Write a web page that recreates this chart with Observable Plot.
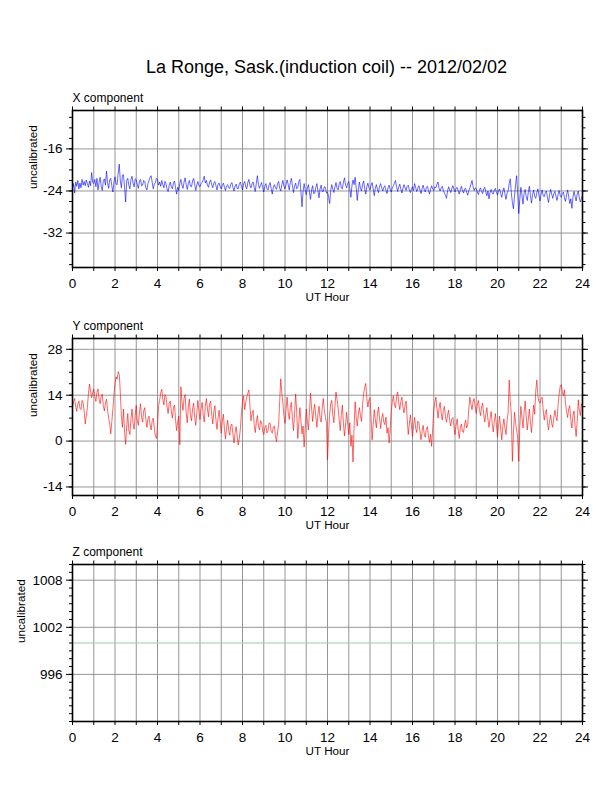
<!DOCTYPE html>
<html>
<head>
<meta charset="utf-8">
<script src="https://cdn.jsdelivr.net/npm/d3@7"></script>
<script src="https://cdn.jsdelivr.net/npm/@observablehq/plot@0.6"></script>
<style>
  html, body { margin: 0; padding: 0; background: #fff; }
  #page { position: relative; width: 612px; height: 792px; background: #fff; overflow: hidden;
          font-family: "Liberation Sans", Arial, Helvetica, sans-serif; }
  #title { position: absolute; left: 0; width: 653px; top: 56px; text-align: center;
           font-size: 18px; line-height: 22px; color: #000; }
  .panel { position: absolute; left: 0; }
</style>
</head>
<body>
<div id="page">
  <div id="title">La Ronge, Sask.(induction coil) -- 2012/02/02</div>
</div>
<script>
// ---------------- data ----------------
const sampleStepHours = 0.05; // one value every 3 minutes, 0..24 h

const xComponent = [
-23.6,-22.6,-24.4,-22.3,-23.1,-22.0,-23.6,-22.5,-23.4,-21.8,-22.9,-22.2,-23.0,-21.9,-22.6,-23.3,-22.1,-23.0,-20.5,-22.4,
-22.6,-21.8,-23.2,-21.6,-23.8,-22.4,-21.4,-23.1,-23.9,-22.0,-21.7,-22.9,-20.2,-22.5,-23.5,-21.9,-21.6,-23.0,-24.2,-22.3,
-21.3,-22.7,-22.8,-20.6,-18.9,-22.1,-23.4,-21.0,-20.9,-23.3,-26.1,-22.0,-21.6,-22.9,-23.6,-21.8,-21.2,-22.5,-23.2,-21.7,
-21.9,-22.8,-23.5,-22.1,-21.8,-23.0,-22.9,-22.0,-22.2,-23.4,-23.8,-22.6,-22.0,-21.4,-21.1,-22.3,-23.6,-22.7,-22.4,-21.6,
-21.8,-22.9,-22.3,-23.1,-22.0,-22.8,-23.4,-22.2,-22.6,-23.7,-24.1,-22.9,-22.3,-23.2,-23.6,-22.5,-22.1,-23.4,-24.6,-23.3,
-23.9,-22.6,-21.8,-22.9,-23.5,-22.3,-21.5,-22.8,-23.7,-22.6,-22.0,-23.1,-23.2,-22.1,-21.6,-22.7,-23.9,-22.9,-22.2,-23.0,
-23.2,-22.6,-22.4,-21.9,-21.2,-22.5,-22.0,-22.9,-23.3,-22.3,-21.9,-22.8,-23.4,-22.5,-22.2,-23.0,-23.8,-22.7,-22.5,-23.2,
-23.6,-22.9,-22.5,-23.3,-23.9,-23.0,-22.8,-23.4,-23.5,-22.7,-22.4,-23.3,-24.0,-23.1,-22.7,-23.5,-23.6,-22.6,-22.3,-23.2,
-23.8,-22.7,-22.2,-23.1,-23.6,-22.4,-21.8,-22.9,-23.4,-22.6,-22.3,-23.3,-24.1,-22.5,-21.1,-22.8,-23.5,-22.9,-22.4,-23.4,
-24.2,-23.1,-22.6,-23.5,-23.8,-22.9,-22.4,-23.6,-24.6,-23.3,-22.8,-23.4,-23.7,-22.6,-22.2,-23.5,-24.0,-22.8,-22.0,-23.1,
-23.6,-22.7,-21.9,-22.8,-23.8,-22.4,-21.6,-23.0,-24.3,-23.1,-22.5,-23.6,-23.4,-22.2,-21.8,-24.2,-27.0,-24.1,-22.6,-23.8,
-24.7,-23.5,-22.8,-24.2,-25.6,-23.8,-23.0,-24.5,-24.4,-23.3,-22.6,-24.0,-25.3,-23.6,-22.9,-24.1,-24.1,-23.2,-23.3,-24.4,
-24.2,-25.1,-26.4,-23.9,-22.8,-23.7,-24.3,-23.2,-22.4,-23.5,-23.8,-22.6,-22.2,-23.4,-23.6,-22.3,-21.5,-22.9,-23.4,-22.6,
-22.2,-23.6,-25.2,-23.0,-21.9,-22.8,-21.4,-23.4,-25.8,-23.7,-22.3,-23.5,-24.0,-22.7,-22.1,-23.6,-24.6,-23.2,-22.5,-23.4,
-23.8,-22.9,-22.4,-23.6,-24.9,-23.5,-22.8,-23.7,-24.3,-23.1,-22.6,-23.4,-24.0,-23.3,-23.0,-23.9,-24.5,-23.4,-22.9,-23.7,
-24.2,-23.4,-23.0,-22.5,-22.0,-23.2,-24.1,-23.3,-22.7,-23.6,-24.4,-23.5,-22.8,-23.4,-23.9,-23.1,-22.9,-23.8,-24.3,-23.6,
-23.2,-23.9,-22.6,-23.4,-24.1,-23.5,-23.0,-23.8,-24.5,-23.6,-22.9,-23.7,-24.2,-23.3,-23.1,-23.9,-24.6,-23.7,-23.0,-23.6,
-23.9,-23.2,-23.4,-22.7,-22.3,-23.5,-24.0,-23.4,-23.1,-23.9,-24.4,-24.8,-25.4,-24.0,-23.2,-23.8,-24.3,-23.5,-23.0,-23.7,
-24.2,-23.5,-23.3,-24.0,-24.6,-23.8,-23.1,-23.9,-24.4,-23.6,-23.5,-24.3,-24.8,-23.9,-23.4,-22.7,-22.0,-23.2,-23.9,-23.4,
-23.6,-24.2,-24.7,-23.8,-23.4,-24.1,-24.5,-23.6,-23.3,-24.2,-24.9,-24.0,-25.5,-24.3,-23.7,-24.4,-24.6,-23.8,-23.5,-24.3,
-24.8,-23.9,-23.6,-24.5,-25.2,-24.1,-23.4,-24.6,-25.6,-24.4,-24.0,-22.6,-21.7,-24.3,-26.2,-27.4,-25.0,-22.8,-21.1,-24.6,
-28.3,-25.6,-23.3,-24.8,-26.5,-24.4,-23.7,-25.1,-25.8,-24.2,-23.1,-24.9,-26.3,-24.7,-23.8,-25.0,-25.4,-24.3,-23.6,-24.8,
-25.9,-24.6,-23.8,-24.9,-25.1,-24.3,-24.0,-25.2,-26.2,-24.8,-23.7,-24.6,-25.4,-24.5,-24.1,-25.0,-25.8,-24.7,-23.9,-24.9,
-25.2,-24.5,-24.2,-25.3,-26.0,-24.7,-23.8,-25.1,-26.4,-25.5,-27.3,-25.2,-24.1,-25.0,-25.9,-24.6,-24.0,-25.3,-26.1,-25.4,
-24.9];

const yComponent = [
10.4,12.1,13.0,10.6,9.1,11.3,12.2,10.0,9.6,12.4,11.8,8.9,5.2,7.8,10.3,14.6,17.4,15.2,13.2,14.8,
15.8,13.6,12.1,14.9,15.9,12.8,11.4,13.7,14.3,10.8,9.2,11.6,12.8,9.4,7.1,5.3,2.2,6.0,9.8,14.2,
17.5,19.6,18.9,21.2,20.4,14.8,7.6,4.2,9.8,2.6,-1.0,4.6,8.4,3.2,2.0,6.8,9.8,5.4,3.6,7.9,
10.9,6.2,4.8,8.9,11.4,7.3,5.8,9.2,10.2,6.6,4.2,6.9,7.6,5.0,3.4,6.2,7.0,3.8,1.5,0.8,
4.6,10.8,12.4,14.6,15.8,12.8,11.0,14.2,13.6,10.4,8.4,11.6,12.2,9.1,7.0,10.2,11.0,6.4,3.2,5.8,
7.6,-1.1,16.6,12.0,9.4,13.1,14.2,8.6,5.6,10.4,12.8,7.9,6.2,9.8,11.6,7.3,4.8,8.6,12.4,9.0,
6.6,9.9,11.8,8.0,5.8,10.6,13.0,9.8,7.4,11.4,12.2,8.1,5.2,8.9,10.8,6.4,3.6,7.1,9.4,5.9,
2.4,6.0,8.2,3.6,0.6,4.1,6.4,3.3,1.8,4.8,5.2,2.0,-0.6,2.6,4.4,1.5,-1.2,0.9,3.8,8.6,
12.0,13.8,9.6,11.7,13.4,14.6,15.6,10.8,6.2,8.4,9.4,5.1,2.6,5.8,7.8,4.5,3.4,6.2,5.6,2.9,
2.0,4.1,4.8,2.5,3.2,5.6,5.4,3.0,2.4,4.3,4.6,1.6,-0.2,2.8,5.0,12.4,19.0,14.6,11.6,7.8,
5.4,9.6,13.4,8.8,6.6,10.2,11.8,6.7,3.2,8.4,14.4,9.0,0.8,5.6,10.2,6.1,2.2,4.6,-1.8,3.9,
9.8,6.4,3.4,8.7,14.6,10.1,6.0,9.4,11.2,7.5,4.2,8.3,10.6,7.0,5.8,9.9,13.0,9.6,7.4,5.6,
-5.8,2.4,8.2,11.3,12.4,7.9,5.6,10.7,15.0,12.6,10.2,6.4,3.2,8.1,11.0,5.3,1.6,4.9,8.8,5.2,
2.0,5.6,-1.6,1.8,-6.4,4.2,12.0,7.3,4.6,8.0,10.2,7.8,6.0,11.2,14.5,16.4,17.6,13.0,10.4,12.6,
13.2,6.9,0.4,5.1,9.6,6.6,4.0,8.2,10.4,6.9,3.8,7.0,8.4,5.8,5.0,7.3,2.4,4.1,-0.6,3.4,
9.2,12.0,13.8,11.1,10.2,13.6,15.0,11.8,9.6,12.1,13.4,10.4,8.6,11.0,12.2,6.8,2.0,5.1,8.0,4.6,
1.4,4.8,7.2,4.0,2.6,6.1,5.6,3.1,0.4,2.9,4.8,2.2,1.2,3.6,4.4,1.5,-0.4,2.1,-1.6,3.8,
9.6,11.8,13.4,9.9,7.0,10.1,11.8,8.6,6.4,9.3,10.6,7.4,5.8,8.0,9.4,6.2,4.6,6.8,7.2,4.5,
2.0,4.7,6.8,3.4,0.8,3.9,5.2,3.1,2.6,5.0,6.4,4.0,5.0,9.8,13.4,11.2,9.6,12.0,13.0,10.6,
8.4,10.9,12.4,9.6,7.8,10.4,11.6,8.0,5.8,8.3,10.2,6.6,4.2,6.9,9.0,5.4,2.8,5.9,8.4,4.9,
1.2,5.0,7.6,3.6,0.4,4.4,6.8,3.9,2.0,6.2,9.0,18.6,12.4,8.0,-6.2,2.4,8.8,5.6,3.2,1.0,
-6.2,4.6,10.6,7.2,4.0,8.5,12.2,7.7,3.4,6.6,9.8,5.9,2.6,7.0,11.0,8.2,15.4,18.6,13.6,12.0,
11.6,12.9,13.4,9.5,6.4,8.7,9.6,5.8,3.4,6.1,8.0,5.3,4.2,7.2,9.4,7.4,6.2,11.0,14.4,16.8,
17.2,15.1,13.8,15.6,11.6,9.0,7.2,9.8,10.8,6.4,4.0,7.7,9.2,4.6,1.4,6.0,12.6,9.4,7.8,11.4,
10.2];

const zHours = [0, 24];
const zComponent = [1000, 1000];

const hourTicks = [0,1,2,3,4,5,6,7,8,9,10,11,12,13,14,15,16,17,18,19,20,21,22,23,24];

const xDomain = [-38.55, -8.7];
const xMajorTicks = [-32, -24, -16];
const xMinorTicks = [-38,-36,-34,-32,-30,-28,-26,-24,-22,-20,-18,-16,-14,-12,-10];

const yDomain = [-16.6, 31.3];
const yMajorTicks = [-14, 0, 14, 28];
const yMinorTicks = [-14,-10.5,-7,-3.5,0,3.5,7,10.5,14,17.5,21,24.5,28];

const zDomain = [990, 1010];
const zMajorTicks = [996, 1002, 1008];
const zMinorTicks = [990,991,992,993,994,995,996,997,998,999,1000,1001,1002,1003,1004,1005,1006,1007,1008,1009,1010];

// ---------------- drawing ----------------
const FONT = "'Liberation Sans', Arial, Helvetica, sans-serif";

function toRows(values) {
  return values.map((v, i) => ({hour: i * sampleStepHours, value: v}));
}

function panel({rows, color, width: lw, domain, major, minor, name, top, labelDx}) {
  const noLabel = () => "";
  const chart = Plot.plot({
    width: 612,
    height: 227,
    marginTop: 25,
    marginBottom: 45,
    marginLeft: 72,
    marginRight: 30,
    x: {domain: [0, 24]},
    y: {domain},
    style: {fontFamily: FONT, fontSize: "13.5px", color: "#000", background: "transparent", overflow: "visible"},
    marks: [
      Plot.gridX(hourTicks, {stroke: "#8a8a8a", strokeOpacity: 1, strokeWidth: 0.9}),
      Plot.gridY(major, {stroke: "#8a8a8a", strokeOpacity: 1, strokeWidth: 0.9}),
      Plot.line(rows, {x: "hour", y: "value", stroke: color, strokeWidth: lw, strokeLinejoin: "round"}),
      Plot.frame({stroke: "#000", strokeWidth: 1.6}),
      Plot.axisX({ticks: hourTicks, anchor: "bottom", tickSize: 4, tickPadding: 7,
                  tickFormat: d => (d % 2 === 0 ? String(d) : ""), label: null}),
      Plot.axisX({ticks: hourTicks, anchor: "top", tickSize: 4.5, tickFormat: noLabel, label: null}),
      Plot.axisY({ticks: major, anchor: "left", tickSize: 6, tickPadding: 4,
                  tickFormat: d => String(d), label: null}),
      Plot.axisY({ticks: minor, anchor: "left", tickSize: 3, tickFormat: noLabel, label: null}),
      Plot.axisY({ticks: major, anchor: "right", tickSize: 5, tickFormat: noLabel, label: null}),
      Plot.axisY({ticks: minor, anchor: "right", tickSize: 2.5, tickFormat: noLabel, label: null}),
      Plot.text([name], {frameAnchor: "top-left", dy: -12, textAnchor: "start", lineAnchor: "middle",
                         fontSize: 12, fill: "#000"}),
      Plot.text(["UT Hour"], {frameAnchor: "bottom", dy: 30, lineAnchor: "middle", fontSize: 11.7, fill: "#000"}),
      Plot.text(["uncalibrated"], {frameAnchor: "left", dx: labelDx, rotate: -90, lineAnchor: "middle",
                                   fontSize: 11.7, fill: "#000"})
    ]
  });
  chart.classList.add("panel");
  chart.style.top = top + "px";
  document.getElementById("page").appendChild(chart);
}

panel({rows: toRows(xComponent), color: "#0000ff", width: 0.6, domain: xDomain,
       major: xMajorTicks, minor: xMinorTicks, name: "X component", top: 85, labelDx: -39});
panel({rows: toRows(yComponent), color: "#ff0000", width: 0.6, domain: yDomain,
       major: yMajorTicks, minor: yMinorTicks, name: "Y component", top: 312.7, labelDx: -39});
panel({rows: zHours.map((h, i) => ({hour: h, value: zComponent[i]})), color: "#9cc8aa", width: 1,
       domain: zDomain, major: zMajorTicks, minor: zMinorTicks, name: "Z component", top: 539.3, labelDx: -51});
</script>
</body>
</html>
